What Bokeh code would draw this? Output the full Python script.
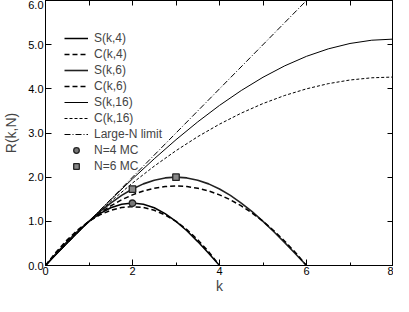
from bokeh.plotting import figure
from bokeh.models import (LinearAxis, FixedTicker, PrintfTickFormatter, Range1d,
                          Legend, LegendItem, Whisker, TeeHead, ColumnDataSource)
from bokeh.embed import file_html
from bokeh.resources import INLINE

# ---- data ----
k4 = [0, 0.25, 0.5, 0.75, 1, 1.25, 1.5, 1.75, 2, 2.25, 2.5, 2.75, 3, 3.25, 3.5, 3.75, 4]
S4 = [0, 0.276, 0.541, 0.786, 1.0, 1.176, 1.307, 1.387, 1.414, 1.387, 1.307, 1.176, 1.0, 0.786, 0.541, 0.276, 0]
C4 = [0, 0.313, 0.583, 0.813, 1.0, 1.146, 1.25, 1.313, 1.333, 1.313, 1.25, 1.146, 1.0, 0.813, 0.583, 0.313, 0]

k6 = [0, 0.25, 0.5, 0.75, 1, 1.25, 1.5, 1.75, 2, 2.25, 2.5, 2.75, 3,
      3.25, 3.5, 3.75, 4, 4.25, 4.5, 4.75, 5, 5.25, 5.5, 5.75, 6]
S6 = [0, 0.261, 0.518, 0.765, 1.0, 1.218, 1.414, 1.587, 1.732, 1.848, 1.932, 1.983, 2.0,
      1.983, 1.932, 1.848, 1.732, 1.587, 1.414, 1.218, 1.0, 0.765, 0.518, 0.261, 0]
C6 = [0, 0.288, 0.55, 0.788, 1.0, 1.188, 1.35, 1.488, 1.6, 1.688, 1.75, 1.788, 1.8,
      1.788, 1.75, 1.688, 1.6, 1.488, 1.35, 1.188, 1.0, 0.788, 0.55, 0.288, 0]

k16 = [0, 0.5, 1, 1.5, 2, 2.5, 3, 3.5, 4, 4.5, 5, 5.5, 6, 6.5, 7, 7.5, 8]
S16 = [0, 0.502, 1.0, 1.488, 1.962, 2.416, 2.848, 3.252, 3.625, 3.962, 4.262, 4.521, 4.736, 4.905, 5.027, 5.101, 5.126]
C16 = [0, 0.517, 1.0, 1.45, 1.867, 2.25, 2.6, 2.917, 3.2, 3.45, 3.667, 3.85, 4.0, 4.117, 4.2, 4.25, 4.267]

kL = [0, 6]
RL = [0, 6]

mc4_k = [2]
mc4_R = [1.41]
mc6_k = [2, 3]
mc6_R = [1.73, 2.0]
mc6_err = [0.02, 0.06]

x_ticks = [0, 2, 4, 6, 8]
x_minor = [1, 3, 5, 7]
y_ticks = [0, 1, 2, 3, 4, 5, 6]

FONT = "Liberation Sans"

p = figure(width=393, height=296, output_backend="svg", toolbar_location=None,
           x_range=Range1d(0, 8), y_range=Range1d(0, 6),
           min_border_left=34, min_border_right=0, min_border_top=0, min_border_bottom=0)
p.xgrid.visible = False
p.ygrid.visible = False
p.outline_line_color = "black"

def style_axis(ax, labels=True):
    ax.major_tick_in = 6
    ax.major_tick_out = 0
    ax.minor_tick_in = 3
    ax.minor_tick_out = 0
    ax.axis_line_color = "black"
    ax.major_tick_line_color = "black"
    ax.minor_tick_line_color = "black"
    ax.major_label_text_font = FONT
    ax.major_label_text_font_size = "11px"
    ax.major_label_text_color = "black"
    ax.axis_label_text_font = FONT
    ax.axis_label_text_font_style = "normal"
    ax.axis_label_text_font_size = "14px"
    if not labels:
        ax.major_label_text_alpha = 0
        ax.major_label_text_font_size = "0px"
        ax.major_label_standoff = 0
        ax.axis_label_standoff = 0

p.xaxis.ticker = FixedTicker(ticks=x_ticks, minor_ticks=x_minor)
p.yaxis.ticker = FixedTicker(ticks=y_ticks, minor_ticks=[])
p.yaxis.formatter = PrintfTickFormatter(format="%.1f")
p.xaxis.axis_label = "k"
p.yaxis.axis_label = "R(k,N)"
p.xaxis.axis_label_standoff = 0
p.yaxis.axis_label_standoff = 6
p.xaxis.major_label_standoff = 1
p.yaxis.major_label_standoff = 2
style_axis(p.xaxis[0])
style_axis(p.yaxis[0])

top = LinearAxis(ticker=FixedTicker(ticks=[0, 1, 2, 3, 4, 5, 6, 7, 8], minor_ticks=[]))
right = LinearAxis(ticker=FixedTicker(ticks=y_ticks, minor_ticks=[]))
style_axis(top, labels=False)
style_axis(right, labels=False)
top.major_tick_in = 5
p.add_layout(top, "above")
p.add_layout(right, "right")

r_s4 = p.line(k4, S4, line_color="black", line_width=1.5)
r_c4 = p.line(k4, C4, line_color="black", line_width=1.5, line_dash="5 3")
r_s6 = p.line(k6, S6, line_color="#222222", line_width=1.6)
r_c6 = p.line(k6, C6, line_color="black", line_width=1.5, line_dash="5 3")
r_s16 = p.line(k16, S16, line_color="black", line_width=1)
r_c16 = p.line(k16, C16, line_color="black", line_width=1, line_dash="3 2")
r_L = p.line(kL, RL, line_color="black", line_width=1, line_dash="6 2 1 2")

src6 = ColumnDataSource(data=dict(x=mc6_k, y=mc6_R,
                                  lo=[r - e for r, e in zip(mc6_R, mc6_err)],
                                  hi=[r + e for r, e in zip(mc6_R, mc6_err)]))
p.add_layout(Whisker(source=src6, base="x", lower="lo", upper="hi",
                     line_color="black", line_width=1,
                     upper_head=TeeHead(size=6, line_color="black"),
                     lower_head=TeeHead(size=6, line_color="black")))
r_m4 = p.scatter(mc4_k, mc4_R, marker="circle", size=6.5, fill_color="#777777",
                 line_color="#222222", line_width=1.3)
r_m6 = p.scatter("x", "y", source=src6, marker="square", size=6.5, fill_color="#888888",
                 line_color="#222222", line_width=1.3)

items = [
    LegendItem(label="S(k,4)", renderers=[r_s4]),
    LegendItem(label="C(k,4)", renderers=[r_c4]),
    LegendItem(label="S(k,6)", renderers=[r_s6]),
    LegendItem(label="C(k,6)", renderers=[r_c6]),
    LegendItem(label="S(k,16)", renderers=[r_s16]),
    LegendItem(label="C(k,16)", renderers=[r_c16]),
    LegendItem(label="Large-N limit", renderers=[r_L]),
    LegendItem(label="N=4 MC", renderers=[r_m4]),
    LegendItem(label="N=6 MC", renderers=[r_m6]),
]
legend = Legend(items=items, location=(19, 92), padding=0, spacing=2,
                glyph_width=24, glyph_height=14, label_height=14, label_standoff=6,
                label_text_font=FONT, label_text_font_size="12px",
                background_fill_alpha=0, border_line_alpha=0)
p.add_layout(legend, "center")

open("out.html", "w").write(file_html(p, INLINE))
